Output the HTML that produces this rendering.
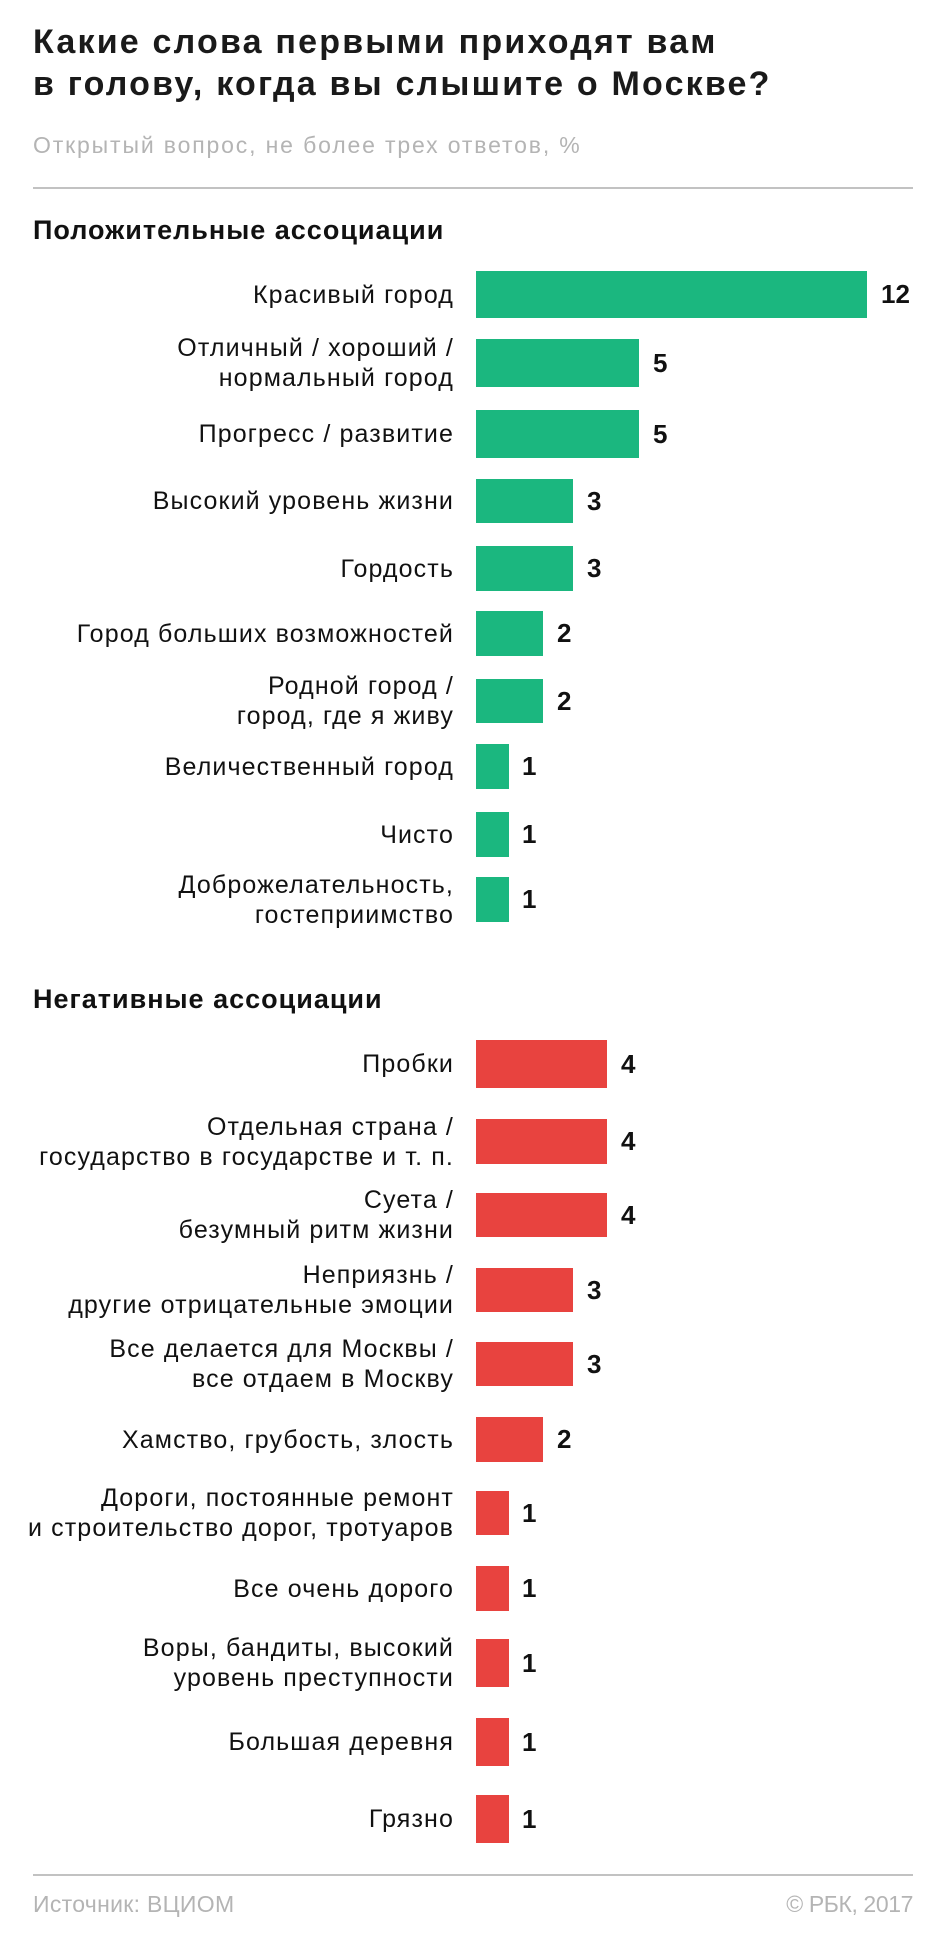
<!DOCTYPE html>
<html>
<head>
<meta charset="utf-8">
<style>
html,body{margin:0;padding:0;background:#fff;}
body{width:945px;height:1947px;position:relative;overflow:hidden;font-family:"Liberation Sans","DejaVu Sans",sans-serif;color:#111;}
.abs{position:absolute;}
.title{left:33px;top:22px;font-size:34px;line-height:41.5px;font-weight:bold;letter-spacing:2.2px;color:#1a1a1a;white-space:nowrap;}
.sub{left:33px;top:131px;font-size:23px;line-height:28px;color:#b4b4b4;letter-spacing:1.85px;white-space:nowrap;}
.hr{left:33px;width:880px;height:2px;background:#c2c2c2;}
.head{left:33px;font-size:27px;line-height:30px;font-weight:bold;letter-spacing:1.0px;white-space:nowrap;color:#111;}
.row{position:absolute;left:0;width:945px;}
.lab{position:absolute;left:0;width:454px;top:50%;transform:translateY(-50%);text-align:right;font-size:25px;line-height:30px;letter-spacing:1.12px;white-space:nowrap;color:#111;}
.bar{position:absolute;left:476px;top:0;height:100%;}
.g{background:#1bb77f;}
.r{background:#e8433f;}
.val{position:absolute;top:0;height:100%;font-size:26px;font-weight:bold;display:flex;align-items:center;color:#111;}
.foot{top:1890px;font-size:23px;line-height:28px;color:#b4b4b4;letter-spacing:0.3px;white-space:nowrap;}
</style>
</head>
<body>
<div class="abs title">Какие слова первыми приходят вам<br>в голову, когда вы слышите о Москве?</div>
<div class="abs sub">Открытый вопрос, не более трех ответов, %</div>
<div class="abs hr" style="top:187px"></div>

<div class="abs head" style="top:215px">Положительные ассоциации</div>

<div class="row" style="top:271px;height:47px"><div class="lab">Красивый город</div><div class="bar g" style="width:391px"></div><div class="val" style="left:881px">12</div></div>
<div class="row" style="top:339px;height:48px"><div class="lab">Отличный / хороший /<br>нормальный город</div><div class="bar g" style="width:163px"></div><div class="val" style="left:653px">5</div></div>
<div class="row" style="top:410px;height:48px"><div class="lab">Прогресс / развитие</div><div class="bar g" style="width:163px"></div><div class="val" style="left:653px">5</div></div>
<div class="row" style="top:479px;height:44px"><div class="lab">Высокий уровень жизни</div><div class="bar g" style="width:97px"></div><div class="val" style="left:587px">3</div></div>
<div class="row" style="top:546px;height:45px"><div class="lab">Гордость</div><div class="bar g" style="width:97px"></div><div class="val" style="left:587px">3</div></div>
<div class="row" style="top:611px;height:45px"><div class="lab">Город больших возможностей</div><div class="bar g" style="width:67px"></div><div class="val" style="left:557px">2</div></div>
<div class="row" style="top:679px;height:44px"><div class="lab">Родной город /<br>город, где я живу</div><div class="bar g" style="width:67px"></div><div class="val" style="left:557px">2</div></div>
<div class="row" style="top:744px;height:45px"><div class="lab">Величественный город</div><div class="bar g" style="width:33px"></div><div class="val" style="left:522px">1</div></div>
<div class="row" style="top:812px;height:45px"><div class="lab">Чисто</div><div class="bar g" style="width:33px"></div><div class="val" style="left:522px">1</div></div>
<div class="row" style="top:877px;height:45px"><div class="lab">Доброжелательность,<br>гостеприимство</div><div class="bar g" style="width:33px"></div><div class="val" style="left:522px">1</div></div>

<div class="abs head" style="top:984px">Негативные ассоциации</div>

<div class="row" style="top:1040px;height:48px"><div class="lab">Пробки</div><div class="bar r" style="width:131px"></div><div class="val" style="left:621px">4</div></div>
<div class="row" style="top:1119px;height:45px"><div class="lab">Отдельная страна /<br>государство в государстве и т. п.</div><div class="bar r" style="width:131px"></div><div class="val" style="left:621px">4</div></div>
<div class="row" style="top:1193px;height:44px"><div class="lab">Суета /<br>безумный ритм жизни</div><div class="bar r" style="width:131px"></div><div class="val" style="left:621px">4</div></div>
<div class="row" style="top:1268px;height:44px"><div class="lab">Неприязнь /<br>другие отрицательные эмоции</div><div class="bar r" style="width:97px"></div><div class="val" style="left:587px">3</div></div>
<div class="row" style="top:1342px;height:44px"><div class="lab">Все делается для Москвы /<br>все отдаем в Москву</div><div class="bar r" style="width:97px"></div><div class="val" style="left:587px">3</div></div>
<div class="row" style="top:1417px;height:45px"><div class="lab">Хамство, грубость, злость</div><div class="bar r" style="width:67px"></div><div class="val" style="left:557px">2</div></div>
<div class="row" style="top:1491px;height:44px"><div class="lab">Дороги, постоянные ремонт<br>и строительство дорог, тротуаров</div><div class="bar r" style="width:33px"></div><div class="val" style="left:522px">1</div></div>
<div class="row" style="top:1566px;height:45px"><div class="lab">Все очень дорого</div><div class="bar r" style="width:33px"></div><div class="val" style="left:522px">1</div></div>
<div class="row" style="top:1639px;height:48px"><div class="lab">Воры, бандиты, высокий<br>уровень преступности</div><div class="bar r" style="width:33px"></div><div class="val" style="left:522px">1</div></div>
<div class="row" style="top:1718px;height:48px"><div class="lab">Большая деревня</div><div class="bar r" style="width:33px"></div><div class="val" style="left:522px">1</div></div>
<div class="row" style="top:1795px;height:48px"><div class="lab">Грязно</div><div class="bar r" style="width:33px"></div><div class="val" style="left:522px">1</div></div>

<div class="abs hr" style="top:1874px"></div>
<div class="abs foot" style="left:33px">Источник: ВЦИОМ</div>
<div class="abs foot" style="right:32px;letter-spacing:-0.4px">© РБК, 2017</div>
</body>
</html>
